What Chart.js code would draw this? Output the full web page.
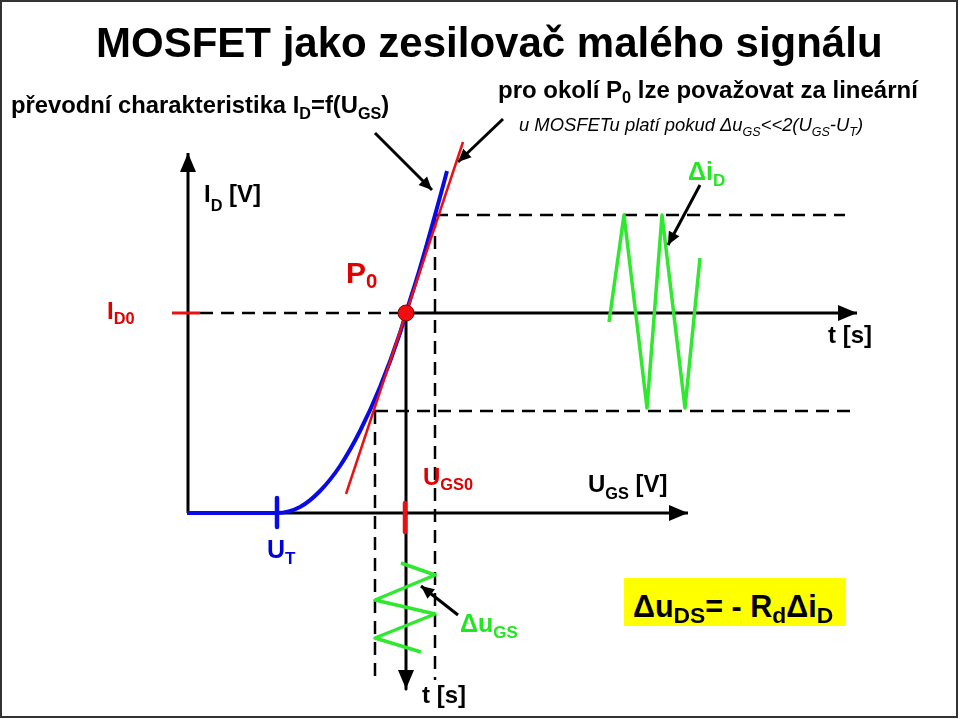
<!DOCTYPE html>
<html>
<head>
<meta charset="utf-8">
<title>MOSFET jako zesilovač malého signálu</title>
<script src="https://cdn.jsdelivr.net/npm/chart.js@4"></script>
<style>
body { margin: 0; background: #fff; }
#wrap { position: relative; width: 960px; height: 719px; overflow: hidden; font-family: "Liberation Sans", Arial, sans-serif; }
#diagram { position: absolute; left: 0; top: 0; }
#frame { position: absolute; left: 0; top: 0; width: 958px; height: 718px; box-sizing: border-box; border: 2px solid #333; pointer-events: none; }
.lbl { position: absolute; white-space: nowrap; font-weight: bold; line-height: 1; color: #000; }
.sub { font-size: 0.68em; position: relative; top: 0.35em; }
.red { color: #e00000; }
.blue { color: #0000d8; }
.green { color: #22e622; }
#formula { position: absolute; left: 624px; top: 578px; width: 222px; height: 48px; background: #ffff00; }
</style>
</head>
<body>
<div id="wrap">
  <canvas id="diagram" width="960" height="719"></canvas>
  <div id="formula"></div>

  <div class="lbl" data-x="96" data-b="58" data-s="42">MOSFET jako zesilovač malého signálu</div>
  <div class="lbl" data-x="11" data-b="113" data-s="23.8">převodní charakteristika I<span class="sub">D</span>=f(U<span class="sub">GS</span>)</div>
  <div class="lbl" data-x="498" data-b="98" data-s="24">pro okolí P<span class="sub">0</span> lze považovat za lineární</div>
  <div class="lbl" data-x="519" data-b="132" data-s="18.4" style="font-weight:normal;font-style:italic">u MOSFETu platí pokud Δu<span class="sub">GS</span>&lt;&lt;2(U<span class="sub">GS</span>-U<span class="sub">T</span>)</div>

  <div class="lbl" data-x="204" data-b="202" data-s="24">I<span class="sub" style="top:0.55em">D</span> [V]</div>
  <div class="lbl" data-x="588" data-b="492" data-s="24">U<span class="sub" style="top:0.45em">GS</span> [V]</div>
  <div class="lbl" data-x="828" data-b="343" data-s="24">t [s]</div>
  <div class="lbl" data-x="422" data-b="703" data-s="24">t [s]</div>

  <div class="lbl red" data-x="107" data-b="319" data-s="24">I<span class="sub">D0</span></div>
  <div class="lbl red" data-x="346" data-b="283" data-s="30">P<span class="sub" style="top:0.25em">0</span></div>
  <div class="lbl red" data-x="423" data-b="485" data-s="24">U<span class="sub">GS0</span></div>
  <div class="lbl blue" data-x="267" data-b="558" data-s="25">U<span class="sub">T</span></div>

  <div class="lbl green" data-x="688" data-b="180" data-s="25">Δi<span class="sub">D</span></div>
  <div class="lbl green" data-x="460" data-b="632" data-s="25">Δu<span class="sub">GS</span></div>

  <div class="lbl" data-x="633" data-b="617" data-s="30.5">Δu<span class="sub" style="font-size:0.75em;top:0.25em">DS</span>= - R<span class="sub" style="font-size:0.75em;top:0.25em">d</span>Δi<span class="sub" style="font-size:0.75em;top:0.25em">D</span></div>

  <div id="frame"></div>
</div>

<script>
// plot area is the whole canvas, values are in picture units (x right, y down)
const X_MAX = 960;
const Y_MAX = 719;

// převodní charakteristika I_D = f(U_GS)
const transferCurve = [[187,513],[277,513],[300,507],[320,491],[340,466],[360,431],[380,387],[400,333],[406,313],[420,268],[440,197],[447,171]];
// linear approximation around P0
const tangentLine = [[346,494],[463,142]];
const operatingPoint = [[406,313]];

// small signals
const inputWave = [[401,563],[435,575],[375,600],[435,614],[375,638],[421,652]];
const outputWave = [[609,322],[624,215],[647,408],[662,215],[685,408],[700,258]];

// axes
const axisUgs = [[187,513],[688,513]];
const axisId = [[188,513],[188,153]];
const axisTout = [[406,313],[857,313]];
const axisTin = [[406,313],[406,689]];

// dashed guide lines
const guideId0 = [[200,313],[398,313]];
const guideTop = [[435,215],[845,215]];
const guideBottom = [[375,411],[850,411]];
const guideLeft = [[375,411],[375,680]];
const guideRight = [[435,215],[435,680]];

// tick marks
const tickId0 = [[172,313],[200,313]];
const tickUt = [[277,498],[277,527]];
const tickUgs0 = [[405,503],[405,532]];

// pointer arrows
const pointerCurve = [[375,133],[432,190]];
const pointerLine = [[503,119],[458,162]];
const pointerId = [[700,185],[668,245]];
const pointerUgs = [[458,615],[421,586]];

const BLACK = '#000';
const RED = '#e81010';
const BLUE = '#0a0ae6';
const GREEN = '#30e830';

function pts(arr) {
    return arr.map(p => ({ x: p[0], y: p[1] }));
}

function line(arr, color, width, extra) {
    return Object.assign({
        data: pts(arr),
        showLine: true,
        borderColor: color,
        backgroundColor: color,
        borderWidth: width,
        pointRadius: 0,
        borderCapStyle: 'butt',
        borderJoinStyle: 'round',
        tension: 0
    }, extra || {});
}

const HEAD_BIG = { len: 19, half: 8 };
const HEAD_SMALL = { len: 13, half: 6 };

const datasets = [
    {
        data: pts(operatingPoint),
        pointRadius: 8,
        pointBackgroundColor: '#ee1010',
        pointBorderColor: '#8a0000',
        pointBorderWidth: 1,
        showLine: false
    },
    line(tangentLine, RED, 2.5),
    line(transferCurve, BLUE, 4, { cubicInterpolationMode: 'monotone' }),
    line(tickId0, RED, 3),
    line(tickUgs0, RED, 4.5),
    line(tickUt, BLUE, 4.5),
    line(pointerCurve, BLACK, 3, { arrowHead: HEAD_SMALL }),
    line(pointerLine, BLACK, 3, { arrowHead: HEAD_SMALL }),
    line(pointerId, BLACK, 3, { arrowHead: HEAD_SMALL }),
    line(pointerUgs, BLACK, 3, { arrowHead: HEAD_SMALL }),
    line(outputWave, GREEN, 3.5),
    line(inputWave, GREEN, 3.5),
    line(axisUgs, BLACK, 3, { arrowHead: HEAD_BIG }),
    line(axisId, BLACK, 3, { arrowHead: HEAD_BIG }),
    line(axisTout, BLACK, 3, { arrowHead: HEAD_BIG }),
    line(axisTin, BLACK, 3, { arrowHead: HEAD_BIG }),
    line(guideId0, BLACK, 2.5, { borderDash: [13, 8] }),
    line(guideTop, BLACK, 2.5, { borderDash: [13, 8] }),
    line(guideBottom, BLACK, 2.5, { borderDash: [13, 8] }),
    line(guideLeft, BLACK, 2.5, { borderDash: [13, 8] }),
    line(guideRight, BLACK, 2.5, { borderDash: [13, 8] })
];

// filled arrow head on the last point of datasets that ask for one
const arrowHeads = {
    id: 'arrowHeads',
    afterDatasetsDraw(chart) {
        const ctx = chart.ctx;
        const xs = chart.scales.x, ys = chart.scales.y;
        chart.data.datasets.forEach(ds => {
            if (!ds.arrowHead) return;
            const n = ds.data.length;
            const a = ds.data[n - 2], b = ds.data[n - 1];
            const x1 = xs.getPixelForValue(a.x), y1 = ys.getPixelForValue(a.y);
            const x2 = xs.getPixelForValue(b.x), y2 = ys.getPixelForValue(b.y);
            const ang = Math.atan2(y2 - y1, x2 - x1);
            const { len, half } = ds.arrowHead;
            const bx = x2 - Math.cos(ang) * len, by = y2 - Math.sin(ang) * len;
            ctx.save();
            ctx.fillStyle = ds.borderColor;
            ctx.beginPath();
            ctx.moveTo(x2, y2);
            ctx.lineTo(bx + Math.sin(ang) * half, by - Math.cos(ang) * half);
            ctx.lineTo(bx - Math.sin(ang) * half, by + Math.cos(ang) * half);
            ctx.closePath();
            ctx.fill();
            ctx.restore();
        });
    }
};

new Chart(document.getElementById('diagram').getContext('2d'), {
    type: 'scatter',
    data: { datasets },
    options: {
        responsive: false,
        animation: false,
        events: [],
        layout: { padding: 0, autoPadding: false },
        plugins: { legend: { display: false }, tooltip: { enabled: false } },
        scales: {
            x: { type: 'linear', min: 0, max: X_MAX, display: false },
            y: { type: 'linear', min: 0, max: Y_MAX, reverse: true, display: false }
        }
    },
    plugins: [arrowHeads]
});

// place labels by their baseline
document.querySelectorAll('.lbl').forEach(el => {
    const s = +el.dataset.s;
    el.style.fontSize = s + 'px';
    el.style.left = el.dataset.x + 'px';
    el.style.top = (+el.dataset.b - 0.8465 * s) + 'px';
});
</script>
</body>
</html>
